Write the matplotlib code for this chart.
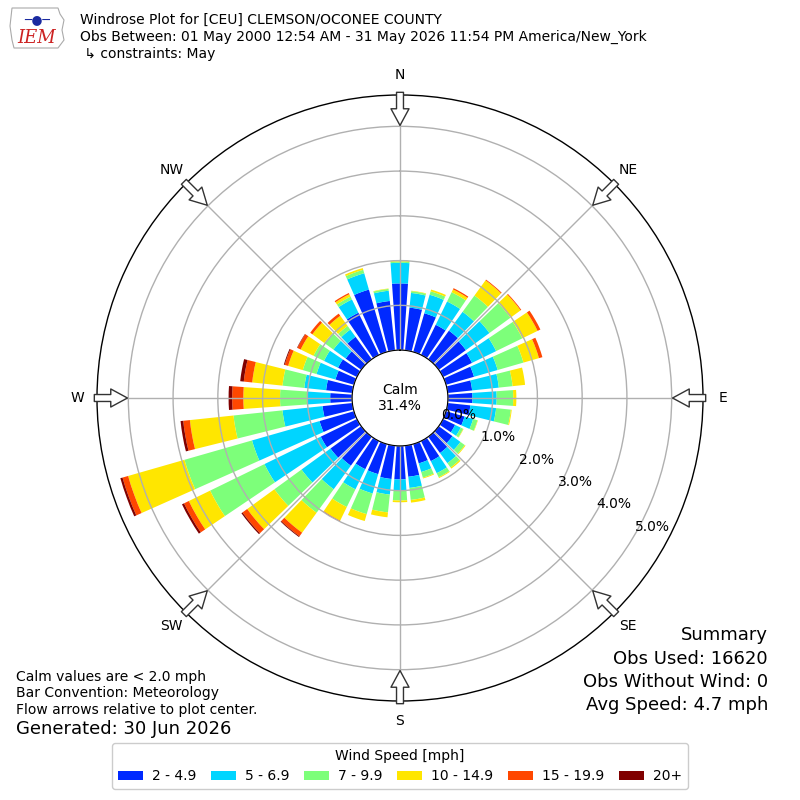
import numpy as np
import matplotlib
matplotlib.use('Agg')  # no display
import matplotlib.pyplot as plt
from matplotlib.patches import Polygon
from matplotlib.transforms import Affine2D

# wind direction bins (deg, meteorological) and speed bins
directions = np.arange(0, 360, 10)
speed_labels = ['2 - 4.9', '5 - 6.9', '7 - 9.9', '10 - 14.9', '15 - 19.9', '20+']

# frequency (%) per direction for each speed bin
spd_2_5 = [1.49, 0.96, 0.90, 0.75, 0.79, 0.75, 0.72, 0.65, 0.55, 0.55, 0.51, 0.43,
           0.30, 0.38, 0.45, 0.50, 0.45, 0.70, 0.75, 0.75, 0.70, 0.70, 0.80, 0.85,
           0.90, 0.80, 0.67, 0.49, 0.59, 0.43, 0.47, 0.43, 0.62, 1.05, 1.45, 1.11]
spd_5_7 = [0.46, 0.33, 0.43, 0.58, 0.52, 0.65, 0.60, 0.55, 0.60, 0.54, 0.58, 0.20,
           0.14, 0.22, 0.28, 0.30, 0.20, 0.25, 0.25, 0.35, 0.45, 0.50, 0.65, 0.80,
           1.40, 1.57, 0.90, 0.52, 0.49, 0.44, 0.35, 0.34, 0.20, 0.33, 0.38, 0.23]
spd_7_10 = [0.03, 0.04, 0.08, 0.23, 0.45, 0.58, 0.65, 0.60, 0.31, 0.37, 0.33, 0.10,
            0.06, 0.12, 0.12, 0.10, 0.13, 0.27, 0.22, 0.40, 0.48, 0.44, 0.65, 0.75,
            1.35, 1.57, 1.10, 0.60, 0.49, 0.32, 0.26, 0.25, 0.10, 0.07, 0.08, 0.04]
spd_10_15 = [0.02, 0.01, 0.04, 0.07, 0.42, 0.28, 0.38, 0.36, 0.28, 0.07, 0.02, 0.01,
             0.01, 0.02, 0.03, 0.02, 0.02, 0.06, 0.04, 0.11, 0.16, 0.34, 0.55, 0.75,
             0.53, 1.31, 0.98, 0.82, 0.68, 0.34, 0.32, 0.33, 0.28, 0.06, 0.04, 0.01]
spd_15_20 = [0, 0, 0, 0.03, 0.02, 0.02, 0.07, 0.08, 0, 0, 0, 0,
             0, 0, 0, 0, 0, 0, 0, 0, 0, 0.02, 0.10, 0.13,
             0.12, 0.13, 0.15, 0.25, 0.19, 0.08, 0.08, 0.06, 0.06, 0.03, 0, 0]
spd_20 = [0, 0, 0, 0, 0, 0, 0, 0, 0, 0, 0, 0,
          0, 0, 0, 0, 0, 0, 0, 0, 0, 0, 0.02, 0.03,
          0.05, 0.05, 0.06, 0.08, 0.08, 0.02, 0.01, 0, 0, 0, 0, 0]

calm_pct = 31.4
compass = ['N', 'NE', 'E', 'SE', 'S', 'SW', 'W', 'NW']
compass_deg = np.arange(0, 360, 45)
ring_values = [0, 1, 2, 3, 4, 5]

title_lines = ['Windrose Plot for [CEU] CLEMSON/OCONEE COUNTY',
               'Obs Between: 01 May 2000 12:54 AM - 31 May 2026 11:54 PM America/New_York',
               ' \u21b3 constraints: May']
note_lines = ['Calm values are < 2.0 mph', 'Bar Convention: Meteorology',
              'Flow arrows relative to plot center.']
summary_lines = ['Summary', 'Obs Used: 16620', 'Obs Without Wind: 0', 'Avg Speed: 4.7 mph']

series = [spd_2_5, spd_5_7, spd_7_10, spd_10_15, spd_15_20, spd_20]
colors = plt.cm.jet(np.linspace(0, 1, 7)[1:])

rmax = 5.7
rorigin = -1.07

fig = plt.figure(figsize=(8, 8), dpi=100)
ax = fig.add_axes([97 / 800, 99 / 800, 606 / 800, 606 / 800], projection='polar')
ax.set_theta_zero_location('N')
ax.set_theta_direction(-1)

# stacked bars, one per direction bin
theta = np.radians(directions)
width = np.radians(8)
bottom = np.zeros(len(directions))
handles = []
for vals, col, lab in zip(series, colors, speed_labels):
    vals = np.array(vals)
    b = ax.bar(theta, vals, width=width, bottom=bottom, color=col, label=lab,
               linewidth=0)
    handles.append(b)
    bottom = bottom + vals

ax.set_ylim(0, rmax)
ax.set_rorigin(rorigin)
ax.set_xticks(np.radians(compass_deg))
ax.set_xticklabels([])
ax.set_yticks(ring_values)
ax.set_yticklabels([f'{v:.1f}%' for v in ring_values], fontsize=10)
ax.set_rlabel_position(120)
ax.grid(True, color='#b0b0b0', linewidth=1)
ax.spines['polar'].set_linewidth(1)

# calm text
ax.text(0.5, 0.5, f'Calm\n{calm_pct:.1f}%', transform=ax.transAxes,
        ha='center', va='center', fontsize=10)

# compass labels and inward flow arrows
for lab, d in zip(compass, compass_deg):
    t = np.radians(d)
    ax.text(t, 6.14, lab, ha='center', va='center', fontsize=10, clip_on=False)
    ax.annotate('', xy=(t, 5.02), xytext=(t, 5.76), annotation_clip=False,
                arrowprops=dict(arrowstyle='simple,head_length=1.2,head_width=1.3,tail_width=0.5',
                                mutation_scale=10, facecolor='white', edgecolor='#333333',
                                linewidth=1, shrinkA=0, shrinkB=0))

# header
for i, line in enumerate(title_lines):
    fig.text(80 / 800, 1 - (20 + 17 * i) / 800, line, fontsize=10, va='center', ha='left')

# small IEM logo (rough)
logo = Polygon([[12, 8], [58, 8], [60, 14], [64, 20], [62, 30], [64, 40],
                [58, 48], [14, 48], [12, 40], [10, 26]],
               closed=True, facecolor='white', edgecolor='#aaaaaa', linewidth=0.8)
logo.set_transform(Affine2D().scale(1, -1).translate(0, 800))
fig.patches.append(logo)
fig.text(37 / 800, 1 - 38 / 800, 'IEM', color='#cc2222', fontsize=13, style='italic',
         family='DejaVu Serif', ha='center', va='center')
fig.text(37 / 800, 1 - 20 / 800, '\u2500\u25cf\u2500', color='#1a2aa0', fontsize=9,
         ha='center', va='center')

# notes
for i, line in enumerate(note_lines):
    fig.text(16 / 800, 1 - (677 + 16.5 * i) / 800, line, fontsize=10, va='center')
fig.text(16 / 800, 1 - 729 / 800, 'Generated: 30 Jun 2026', fontsize=13, va='center')

for i, line in enumerate(summary_lines):
    fig.text(768 / 800, 1 - (635 + 23.5 * i) / 800, line, fontsize=13, va='center', ha='right')

fig.legend(handles=handles, labels=speed_labels, loc='lower center',
           bbox_to_anchor=(0.5, 0.005), ncol=6, title='Wind Speed [mph]',
           fontsize=10, title_fontsize=10, handlelength=1.8, handleheight=0.6,
           handletextpad=0.65, columnspacing=1.05, framealpha=1)

fig.savefig('out.png', dpi=100)
